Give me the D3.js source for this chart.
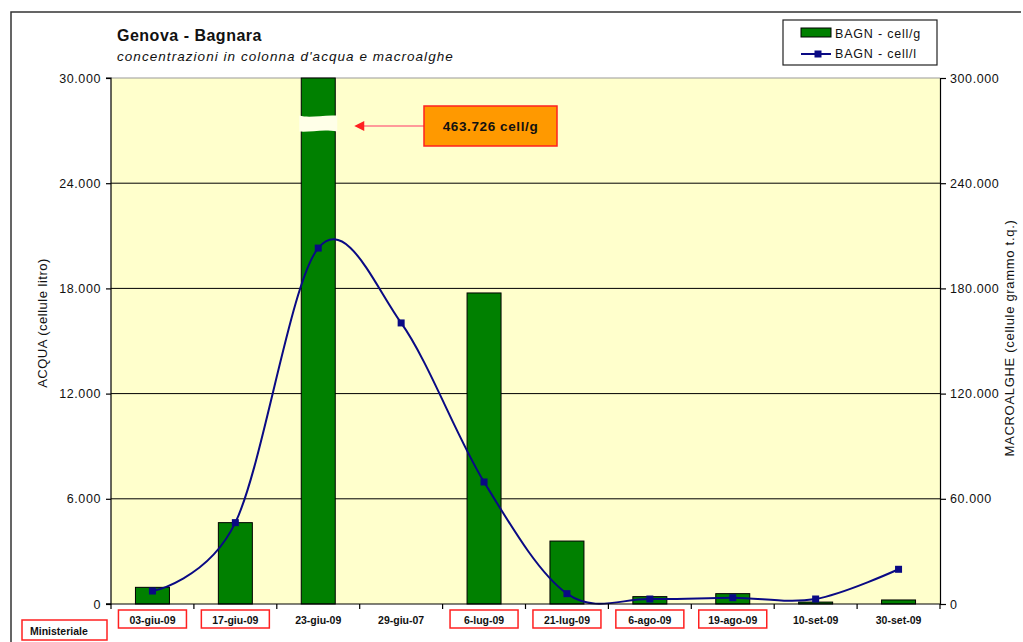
<!DOCTYPE html>
<html>
<head>
<meta charset="utf-8">
<script src="https://cdn.jsdelivr.net/npm/d3@7"></script>
<style>
  html, body { margin: 0; padding: 0; background: #fff; }
  svg { display: block; font-family: "Liberation Sans", Arial, sans-serif; }
</style>
</head>
<body>
<svg id="chart" width="1023" height="642"></svg>
<script>
// ---- data ----
const categories = ["03-giu-09","17-giu-09","23-giu-09","29-giu-07","6-lug-09","21-lug-09","6-ago-09","19-ago-09","10-set-09","30-set-09"];
const boxedLabels = [true,true,false,false,true,true,true,true,false,false];
const cellG = [9500, 46400, 463726, null, 177400, 35900, 4200, 5900, 1100, 2300];   // bars, right axis (MACROALGHE)
const cellL = [740, 4640, 20300, 16030, 6960, 590, 285, 360, 285, 1980];             // line, left axis (ACQUA)
const leftTicks = [0, 6000, 12000, 18000, 24000, 30000];
const rightTicks = [0, 60000, 120000, 180000, 240000, 300000];
const titleText = "Genova - Bagnara";
const subtitleText = "concentrazioni in colonna d'acqua e macroalghe";
const leftTitle = "ACQUA (cellule litro)";
const rightTitle = "MACROALGHE (cellule grammo t.q.)";
const legendLabels = ["BAGN - cell/g", "BAGN - cell/l"];
const annotationText = "463.726 cell/g";
const breakValue = 274000;
const footLabel = "Ministeriale";

// ---- layout ----
const svg = d3.select("#chart");
const M = { left: 111, right: 940, top: 78, bottom: 604 };
const itLocale = d3.formatLocale({ decimal: ",", thousands: ".", grouping: [3], currency: ["", "€"] });
const fmt = itLocale.format(",d");

const x = d3.scaleBand().domain(categories).range([M.left, M.right]).padding(0);
const yL = d3.scaleLinear().domain([0, 30000]).range([M.bottom, M.top]);
const yR = d3.scaleLinear().domain([0, 300000]).range([M.bottom, M.top]).clamp(true);

const navy = "#0a0a84";
const green = "#008000";

// outer frame
svg.append("path").attr("d", "M11,642 L11,12 L1021,12")
  .attr("fill", "none").attr("stroke", "#333").attr("stroke-width", 1.5);

// plot background
svg.append("rect").attr("x", M.left).attr("y", M.top)
  .attr("width", M.right - M.left).attr("height", M.bottom - M.top)
  .attr("fill", "#FFFFCC");
// top edge (grey)
svg.append("line").attr("x1", M.left).attr("x2", M.right).attr("y1", M.top).attr("y2", M.top)
  .attr("stroke", "#999").attr("stroke-width", 1);

// gridlines
svg.append("g").selectAll("line").data(leftTicks.filter(d => d > 0 && d < 30000)).join("line")
  .attr("x1", M.left).attr("x2", M.right)
  .attr("y1", d => yL(d)).attr("y2", d => yL(d))
  .attr("stroke", "#000").attr("stroke-width", 1);

// bars
const bw = x.bandwidth() * 0.41;
const barData = categories.map((c, i) => ({ c, v: cellG[i] })).filter(d => d.v != null);
svg.append("g").selectAll("rect").data(barData).join("rect")
  .attr("x", d => x(d.c) + x.bandwidth() / 2 - bw / 2)
  .attr("y", d => yR(d.v))
  .attr("width", bw)
  .attr("height", d => M.bottom - yR(d.v))
  .attr("fill", green).attr("stroke", "#000").attr("stroke-width", 1);

// break on the clipped bar
const overIdx = cellG.findIndex(v => v != null && v > yR.domain()[1]);
if (overIdx >= 0) {
  const cx = x(categories[overIdx]) + x.bandwidth() / 2;
  const yb = yR(breakValue);
  const x0 = cx - bw / 2 - 2, x1 = cx + bw / 2 + 2;
  const w = x1 - x0;
  const p = d3.path();
  p.moveTo(x0, yb - 8);
  p.bezierCurveTo(x0 + w * 0.3, yb - 5, x0 + w * 0.6, yb - 9, x1, yb - 8);
  p.lineTo(x1, yb + 8);
  p.bezierCurveTo(x0 + w * 0.6, yb + 5, x0 + w * 0.3, yb + 9, x0, yb + 8);
  p.closePath();
  svg.append("path").attr("d", p.toString()).attr("fill", "#FFFFE8").attr("stroke", "none");

  // annotation
  const bx = 424, by = 106, bwid = 133, bh = 40;
  const ay = by + bh / 2;
  svg.append("line").attr("x1", bx).attr("x2", cx + bw / 2 + 26).attr("y1", ay).attr("y2", ay)
    .attr("stroke", "#ff9a9a").attr("stroke-width", 2);
  const ax = cx + bw / 2 + 19;
  svg.append("path").attr("d", `M${ax},${ay} L${ax + 10},${ay - 5} L${ax + 10},${ay + 5} Z`)
    .attr("fill", "#ff2020");
  svg.append("rect").attr("x", bx).attr("y", by).attr("width", bwid).attr("height", bh)
    .attr("fill", "#FF9900").attr("stroke", "#ff2020").attr("stroke-width", 1.5);
  svg.append("text").attr("x", bx + bwid / 2).attr("y", ay + 5)
    .attr("text-anchor", "middle").attr("font-size", 13.5).attr("font-weight", "bold")
    .attr("letter-spacing", 0.6).attr("fill", "#111").text(annotationText);
}

// line (smoothed)
const lineData = categories.map((c, i) => ({ c, v: cellL[i] }));
const line = d3.line()
  .x(d => x(d.c) + x.bandwidth() / 2)
  .y(d => yL(d.v))
  .curve(d3.curveCardinal.tension(0));
svg.append("path").datum(lineData).attr("d", line)
  .attr("fill", "none").attr("stroke", navy).attr("stroke-width", 2);
svg.append("g").selectAll("rect").data(lineData).join("rect")
  .attr("x", d => x(d.c) + x.bandwidth() / 2 - 3.5)
  .attr("y", d => yL(d.v) - 3.5)
  .attr("width", 7).attr("height", 7).attr("fill", navy);

// axes
const axL = d3.axisLeft(yL).tickValues(leftTicks).tickFormat(fmt).tickSize(5).tickPadding(5);
const gL = svg.append("g").attr("transform", `translate(${M.left},0)`).call(axL);
const axR = d3.axisRight(yR).tickValues(rightTicks).tickFormat(fmt).tickSize(6).tickPadding(4);
const gR = svg.append("g").attr("transform", `translate(${M.right},0)`).call(axR);
[gL, gR].forEach(g => {
  g.select(".domain").attr("stroke", "#000").attr("stroke-width", 1.2);
  g.selectAll(".tick line").attr("stroke", "#000").attr("stroke-width", 1.2);
  g.selectAll(".tick text").attr("font-size", 12.5).attr("letter-spacing", 0.6)
    .attr("fill", "#111").attr("font-family", "Liberation Sans, Arial, sans-serif");
});
gL.select(".domain").attr("d", `M-5,${M.top}H0V${M.bottom}H-5`);

// bottom axis line and boundary ticks
svg.append("line").attr("x1", M.left - 5).attr("x2", M.right).attr("y1", M.bottom).attr("y2", M.bottom)
  .attr("stroke", "#000").attr("stroke-width", 1.2);
const bounds = categories.map(c => x(c)).concat([x.range()[1]]);
svg.append("g").selectAll("line").data(bounds).join("line")
  .attr("x1", d => d).attr("x2", d => d).attr("y1", M.bottom).attr("y2", M.bottom + 5)
  .attr("stroke", "#000").attr("stroke-width", 1.2);

// category labels with red boxes
const lab = svg.append("g");
categories.forEach((c, i) => {
  const cx = x(c) + x.bandwidth() / 2;
  if (boxedLabels[i]) {
    const bx0 = Math.max(cx - 34, M.left + 2);
    const bx1 = cx + 34;
    lab.append("rect").attr("x", bx0).attr("y", 610).attr("width", bx1 - bx0).attr("height", 18)
      .attr("fill", "none").attr("stroke", "#ff2020").attr("stroke-width", 1.5);
  }
  lab.append("text").attr("x", cx).attr("y", 623.5).attr("text-anchor", "middle")
    .attr("font-size", 10.5).attr("font-weight", "bold").attr("fill", "#111").text(c);
});
lab.append("rect").attr("x", 22).attr("y", 620).attr("width", 85).attr("height", 20)
  .attr("fill", "none").attr("stroke", "#ff2020").attr("stroke-width", 1.5);
lab.append("text").attr("x", 30).attr("y", 634.5).attr("font-size", 10.5).attr("font-weight", "bold")
  .attr("fill", "#111").text(footLabel);

// titles
svg.append("text").attr("x", 117).attr("y", 41).attr("font-size", 16).attr("font-weight", "bold")
  .attr("letter-spacing", 0.5).attr("fill", "#111").text(titleText);
svg.append("text").attr("x", 117).attr("y", 61).attr("font-size", 13.5).attr("font-style", "italic")
  .attr("letter-spacing", 1.05).attr("fill", "#111").text(subtitleText);

// axis titles
svg.append("text").attr("transform", `translate(47,323) rotate(-90)`)
  .attr("text-anchor", "middle").attr("font-size", 13).attr("letter-spacing", 0.5)
  .attr("fill", "#111").text(leftTitle);
svg.append("text").attr("transform", `translate(1014,338) rotate(-90)`)
  .attr("text-anchor", "middle").attr("font-size", 13).attr("letter-spacing", 0.7)
  .attr("fill", "#111").text(rightTitle);

// legend
const lg = svg.append("g");
lg.append("rect").attr("x", 783).attr("y", 20).attr("width", 154).attr("height", 45)
  .attr("fill", "#fff").attr("stroke", "#222").attr("stroke-width", 1.2);
lg.append("rect").attr("x", 801).attr("y", 28).attr("width", 30).attr("height", 9)
  .attr("fill", green).attr("stroke", "#000").attr("stroke-width", 1);
lg.append("text").attr("x", 835).attr("y", 38).attr("font-size", 12.5).attr("letter-spacing", 0.8)
  .attr("fill", "#111").text(legendLabels[0]);
lg.append("line").attr("x1", 801).attr("x2", 831).attr("y1", 54).attr("y2", 54)
  .attr("stroke", navy).attr("stroke-width", 2);
lg.append("rect").attr("x", 814.5).attr("y", 50.5).attr("width", 7).attr("height", 7).attr("fill", navy);
lg.append("text").attr("x", 835).attr("y", 58).attr("font-size", 12.5).attr("letter-spacing", 0.8)
  .attr("fill", "#111").text(legendLabels[1]);
</script>
</body>
</html>
